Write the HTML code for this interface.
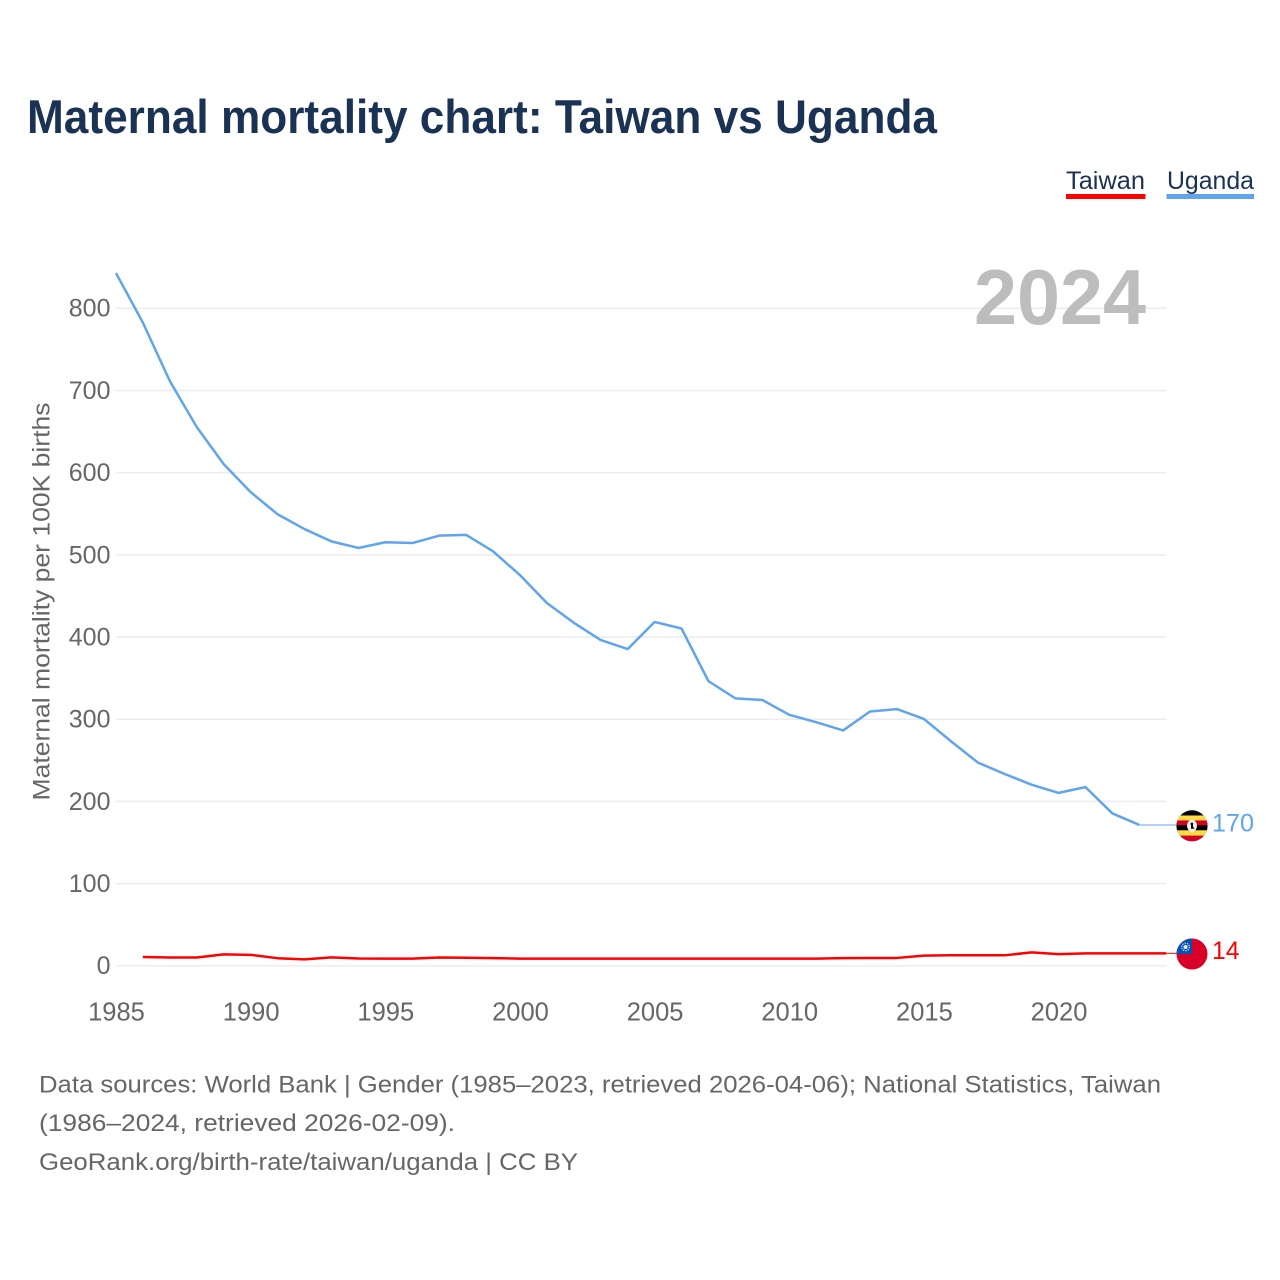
<!DOCTYPE html>
<html lang="en">
<head>
<meta charset="utf-8">
<title>Maternal mortality chart: Taiwan vs Uganda</title>
<style>
html,body{margin:0;padding:0;background:#fff;width:1280px;height:1280px;overflow:hidden}
svg{display:block}
text{font-family:"Liberation Sans",Arial,sans-serif}
</style>
</head>
<body>
<svg id="chart" xmlns="http://www.w3.org/2000/svg" width="1280" height="1280" viewBox="0 0 1280 1280">
  <rect x="0" y="0" width="1280" height="1280" fill="#fff"/>
  <text x="27" y="133" font-size="47" font-weight="700" fill="#1a3253" textLength="910" lengthAdjust="spacingAndGlyphs">Maternal mortality chart: Taiwan vs Uganda</text>

  <g>
    <g>
      <text x="1066" y="189" font-size="25" fill="#1a3253" textLength="79" lengthAdjust="spacingAndGlyphs">Taiwan</text>
      <rect x="1066" y="194" width="79.5" height="5" fill="#ff0000"/>
    </g>
    <g>
      <text x="1167" y="189" font-size="25" fill="#1a3253" textLength="87" lengthAdjust="spacingAndGlyphs">Uganda</text>
      <rect x="1166.5" y="194" width="87.5" height="5" fill="#60a5ec"/>
    </g>
  </g>

  <g id="grid"></g>
  <g id="yticks"></g>
  <g id="xticks"></g>

  <text transform="translate(49.5,800.5) rotate(-90)" x="0" y="0" font-size="24" fill="#666" textLength="398" lengthAdjust="spacingAndGlyphs">Maternal mortality per 100K births</text>

  <text x="974" y="324" font-size="78" font-weight="700" fill="#bdbdbd" textLength="172" lengthAdjust="spacingAndGlyphs">2024</text>

  <g id="series"></g>

  <g id="uganda-flag">
    <clipPath id="ug-clip"><circle cx="0" cy="0" r="15.5"/></clipPath>
    <g clip-path="url(#ug-clip)">
      <rect x="-16" y="-16" width="32" height="32" fill="#000"/>
      <rect x="-16" y="-10.3" width="32" height="5" fill="#ffda44"/>
      <rect x="-16" y="-5.3" width="32" height="4.8" fill="#d80027"/>
      <rect x="-16" y="-0.5" width="32" height="5" fill="#000"/>
      <rect x="-16" y="4.5" width="32" height="5.5" fill="#ffda44"/>
      <rect x="-16" y="10" width="32" height="6" fill="#d80027"/>
      <ellipse cx="0" cy="0" rx="5" ry="6" fill="#f0f0f0"/>
      <path d="M-1.5,-3 L1,-3 L1,1 L2.5,3 L-1,3 L-1,0 Z" fill="#000"/>
    </g>
  </g>
  <g id="taiwan-flag">
    <clipPath id="tw-clip"><circle cx="0" cy="0" r="15.5"/></clipPath>
    <g clip-path="url(#tw-clip)">
      <rect x="-16" y="-16" width="32" height="32" fill="#d80027"/>
      <rect x="-16" y="-16" width="16" height="16" fill="#0052b4"/>
      <circle cx="-6.5" cy="-7" r="3.8" fill="none" stroke="#f0f0f0" stroke-width="1.2" stroke-dasharray="1.2 1.2"/>
      <circle cx="-6.5" cy="-7" r="2" fill="#f0f0f0"/>
    </g>
  </g>

  <text id="uganda-value" x="1212" font-size="25" fill="#60a5ec" textLength="42" lengthAdjust="spacingAndGlyphs"></text>
  <text id="taiwan-value" x="1212" font-size="25" fill="#ff0000" textLength="27.5" lengthAdjust="spacingAndGlyphs"></text>

  <g font-size="24.5" fill="#666">
    <text x="39" y="1092.5" textLength="1122" lengthAdjust="spacingAndGlyphs">Data sources: World Bank | Gender (1985–2023, retrieved 2026-04-06); National Statistics, Taiwan</text>
    <text x="39" y="1131" textLength="416" lengthAdjust="spacingAndGlyphs">(1986–2024, retrieved 2026-02-09).</text>
    <text x="39" y="1170" textLength="539" lengthAdjust="spacingAndGlyphs">GeoRank.org/birth-rate/taiwan/uganda | CC BY</text>
  </g>
</svg>
<script>
var yTickValues = [0, 100, 200, 300, 400, 500, 600, 700, 800];
var xTickYears = [1985, 1990, 1995, 2000, 2005, 2010, 2015, 2020];
var ugandaStartYear = 1985;
var ugandaValues = [842.5, 782, 711, 655, 610, 576, 549, 531, 516, 508, 515, 514, 523, 524, 504, 475, 441, 417, 396, 385, 418, 410, 346, 325, 323, 305, 296, 286, 309, 312, 300, 273, 247, 233, 220, 210, 217, 185, 171];
var taiwanStartYear = 1986;
var taiwanValues = [10.3, 9.7, 9.7, 13.5, 13, 8.9, 7.5, 9.9, 8.5, 8.3, 8.3, 9.8, 9.5, 9, 8.4, 8.4, 8.4, 8.4, 8.4, 8.4, 8.4, 8.4, 8.4, 8.4, 8.4, 8.4, 9, 9.2, 9.2, 12, 12.4, 12.4, 12.4, 16, 13.8, 14.8, 14.8, 14.8, 14.8];
var ugandaLatest = 170;
var taiwanLatest = 14;

var NS = 'http://www.w3.org/2000/svg';
function xScale(year) { return 116 + (year - 1985) * 26.93; }
function yScale(value) { return 965.5 - value * 0.8219; }
var plotRight = xScale(2024);
var flagX = 1192;

function make(tag, attrs, parent) {
  var el = document.createElementNS(NS, tag);
  for (var k in attrs) el.setAttribute(k, attrs[k]);
  parent.appendChild(el);
  return el;
}
function pathFrom(startYear, values) {
  return values.map(function (v, i) {
    return (i ? 'L' : 'M') + xScale(startYear + i).toFixed(2) + ',' + yScale(v).toFixed(2);
  }).join(' ');
}

var grid = document.getElementById('grid');
var yticks = document.getElementById('yticks');
yTickValues.forEach(function (v) {
  var line = make('line', {x1: 116, x2: plotRight, y1: yScale(v) + 0.3, y2: yScale(v) + 0.3, stroke: '#ececec', 'stroke-width': 1.5}, grid);
  
  
  var t = make('text', {x: 110.5, y: yScale(v) + 8.7, 'text-anchor': 'end', 'font-size': 25, fill: '#666'}, yticks);
  
  
  t.textContent = v;
});

var xticks = document.getElementById('xticks');
xTickYears.forEach(function (yr) {
  var t = make('text', {x: xScale(yr) + 0.5, y: 1020.5, 'text-anchor': 'middle', 'font-size': 25.5, fill: '#666'}, xticks);
  
  
  t.textContent = yr;
});

var series = document.getElementById('series');

var ugandaLastYear = ugandaStartYear + ugandaValues.length - 1;
var ugandaLeader = make('line', {x1: xScale(ugandaLastYear), y1: yScale(ugandaValues[ugandaValues.length - 1]), x2: flagX - 15, y2: yScale(ugandaValues[ugandaValues.length - 1]), stroke: '#60a5ec', 'stroke-width': 1}, series);



var taiwanLastYear = taiwanStartYear + taiwanValues.length - 1;
var taiwanLeader = make('line', {x1: xScale(taiwanLastYear), y1: yScale(taiwanValues[taiwanValues.length - 1]), x2: flagX - 15, y2: yScale(taiwanValues[taiwanValues.length - 1]), stroke: '#ff0000', 'stroke-width': 1}, series);



var taiwanLine = make('path', {d: pathFrom(taiwanStartYear, taiwanValues), fill: 'none', stroke: '#ff0000', 'stroke-width': 2.5, 'stroke-linejoin': 'round'}, series);



var ugandaLine = make('path', {d: pathFrom(ugandaStartYear, ugandaValues), fill: 'none', stroke: '#60a5ec', 'stroke-width': 2.5, 'stroke-linejoin': 'round'}, series);



document.getElementById('uganda-flag').setAttribute('transform', 'translate(' + flagX + ',' + yScale(ugandaLatest) + ')');
document.getElementById('taiwan-flag').setAttribute('transform', 'translate(' + flagX + ',' + yScale(taiwanLatest) + ')');

var ugandaValue = document.getElementById('uganda-value');
ugandaValue.setAttribute('y', yScale(ugandaLatest) + 5.5);
ugandaValue.textContent = ugandaLatest;
var taiwanValue = document.getElementById('taiwan-value');
taiwanValue.setAttribute('y', yScale(taiwanLatest) + 5);
taiwanValue.textContent = taiwanLatest;
</script>
</body>
</html>
